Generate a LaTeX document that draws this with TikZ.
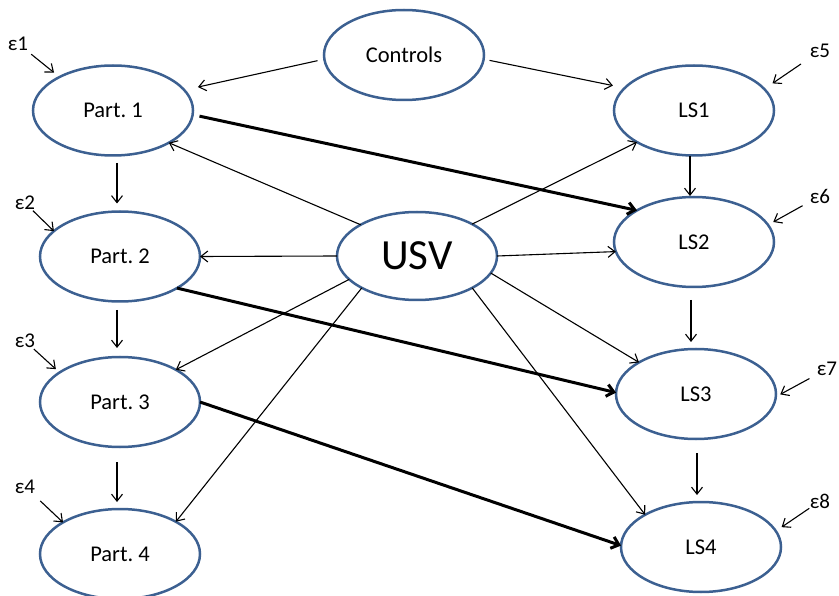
\documentclass[tikz,border=0pt]{standalone}
\usepackage{fontspec}
\setmainfont{Carlito}
\usetikzlibrary{shapes.geometric,arrows.meta,calc}
\definecolor{oval}{RGB}{60,96,145}
\frenchspacing
\begin{document}
\begin{tikzpicture}[x=1pt,y=-1pt,
  var/.style={ellipse,draw=oval,line width=2.5pt,minimum width=160pt,minimum height=90pt,inner sep=0pt,outer sep=0pt,font=\fontsize{22.5}{27}\selectfont},
  eps/.style={inner sep=0pt,font=\fontsize{21}{24}\selectfont},
  thinarr/.style={line width=1.1pt,-{Straight Barb[length=7pt,width=11pt]}},
  thickarr/.style={line width=3pt,-{Straight Barb[length=7pt,width=12pt]}},
]
\useasboundingbox (0,0) rectangle (839,596);

\node[var] (C) at (404,55) {Controls};
\node[var] (P1) at (113,110.5) {Part. 1};
\node[var] (P2) at (120,256.5) {Part. 2};
\node[var] (P3) at (120,402) {Part. 3};
\node[var] (P4) at (120,554) {Part. 4};
\node[var,minimum height=88pt,font=\fontsize{43}{50}\selectfont] (U) at (417,256) {USV};
\node[var] (L1) at (694,110.5) {LS1};
\node[var] (L2) at (694,242) {LS2};
\node[var] (L3) at (696,394) {LS3};
\node[var] (L4) at (701,547) {LS4};

\node[eps] (e1) at (18,43.5) {ε1};
\node[eps] (e2) at (25,203) {ε2};
\node[eps] (e3) at (25,341) {ε3};
\node[eps] (e4) at (25,486.5) {ε4};
\node[eps] (e5) at (820,51) {ε5};
\node[eps] (e6) at (820,196) {ε6};
\node[eps] (e7) at (827,369) {ε7};
\node[eps] (e8) at (820,501) {ε8};

% error arrows
\draw[thinarr,shorten <=17pt,shorten >=7pt] (e1.center) -- (P1.148);
\draw[thinarr,shorten <=11pt] (e2.center) -- (P2.159);
\draw[thinarr,shorten <=12pt,shorten >=5pt] (e3.center) -- (P3.154);
\draw[thinarr,shorten <=21pt] (e4.center) -- (P4.151);
\draw[thinarr,shorten <=23pt,shorten >=10pt] (e5.center) -- (L1.17);
\draw[thinarr,shorten <=20pt,shorten >=6pt] (e6.center) -- (L2.13);
\draw[thinarr,shorten <=20pt,shorten >=5pt] (e7.center) -- (L3.358);
\draw[thinarr,shorten <=13pt,shorten >=7pt] (e8.center) -- (L4.12);

% controls
\draw[thinarr,shorten <=7pt,shorten >=14pt] (C.183) -- (P1.16);
\draw[thinarr,shorten <=6pt,shorten >=12pt] (C.357) -- (L1.162);

% vertical chains
\draw[thinarr,shorten <=7.5pt,shorten >=8pt] ($(P1.south -| P2.north)+(-3,0)$) -- ($(P2.north)+(-3,0)$);
\draw[thinarr,shorten <=8.5pt,shorten >=9pt] ($(P2.south -| P3.north)+(-3,0)$) -- ($(P3.north)+(-3,0)$);
\draw[thinarr,shorten <=15pt,shorten >=7pt] ($(P3.south -| P4.north)+(-3,0)$) -- ($(P4.north)+(-3,0)$);
\draw[thinarr,shorten <=0.5pt,shorten >=1pt] ($(L1.south)+(-4,0)$) -- ($(L2.north)+(-4,0)$);
\draw[thinarr,shorten <=13pt,shorten >=7pt] ($(L2.south)+(-3,0)$) -- ($(L2.south |- L3.north)+(-3,0)$);
\draw[thinarr,shorten <=14pt,shorten >=7pt] ($(L3.south)+(1,0)$) -- ($(L3.south |- L4.north)+(1,0)$);

% thick paths
\draw[thickarr,shorten <=7pt] (P1.357) -- (L2.151);
\draw[thickarr] (P2.331) -- (L3.179);
\draw[thickarr] (P3.east) -- (L4.179);

% USV paths
\draw[thinarr] (U.151) -- (P1.330);
\draw[thinarr] (U.west) -- (P2.east);
\draw[thinarr] (U.199) -- (P3.30);
\draw[thinarr] (U.210) -- (P4.30);
\draw[thinarr] (U.30) -- (L1.209);
\draw[thinarr] (U.east) -- (L2.187);
\draw[thinarr] (U.347) -- (L3.151);
\draw[thinarr] (U.330) -- (L4.150);
\end{tikzpicture}
\end{document}
